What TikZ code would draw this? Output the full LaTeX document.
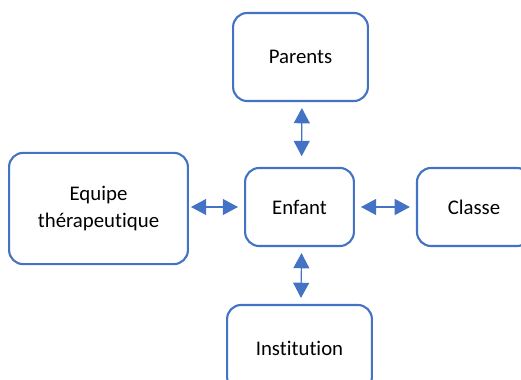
\documentclass[tikz,border=0pt]{standalone}
\usepackage{fontspec}
\setmainfont[Ligatures=NoCommon]{Carlito}
\usepackage{xcolor}
\usetikzlibrary{arrows.meta, positioning}
\definecolor{officeblue}{RGB}{68, 114, 196}
\tikzset{
  box/.style={rectangle, rounded corners=10pt, draw=officeblue, line width=1.5pt, fill=white,
              align=center, font=\fontsize{14.8}{19.5}\selectfont},
  link/.style={{Triangle[length=0.38cm, width=0.4cm]}-{Triangle[length=0.38cm, width=0.4cm]},
               line width=0.8pt, color=officeblue, shorten <=0.15cm, shorten >=0.15cm},
}
\begin{document}
\begin{tikzpicture}[x=0.025cm, y=-0.025cm]
  \useasboundingbox (0,0) rectangle (521,380);
  % centre and the four partners
  \node[box, minimum width=2.72cm, minimum height=1.95cm] (enfant) at (299.5,207) {Enfant};
  \node[box, minimum width=3.37cm, minimum height=2.2cm] (parents) at (300.5,57) {Parents};
  \node[box, minimum width=4.47cm, minimum height=2.78cm] (equipe) at (98.5,208.5) {Equipe\\th\'erapeutique};
  \node[box, minimum width=2.85cm, minimum height=1.95cm] (classe) at (474,207) {Classe};
  \node[box, minimum width=3.62cm, minimum height=2.15cm] (institution) at (299.5,348) {Institution};

  % links
  \draw[link, shorten >=0.27cm] ([xshift=1pt]parents.south) -- ([xshift=1.5pt]enfant.north);
  \draw[link] ([xshift=1.5pt]enfant.south) -- ([xshift=1pt]institution.north);
  \draw[link, shorten <=0.05cm] (equipe.east |- enfant.west) -- (enfant.west);
  \draw[link] (enfant.east) -- (classe.west);
\end{tikzpicture}
\end{document}
